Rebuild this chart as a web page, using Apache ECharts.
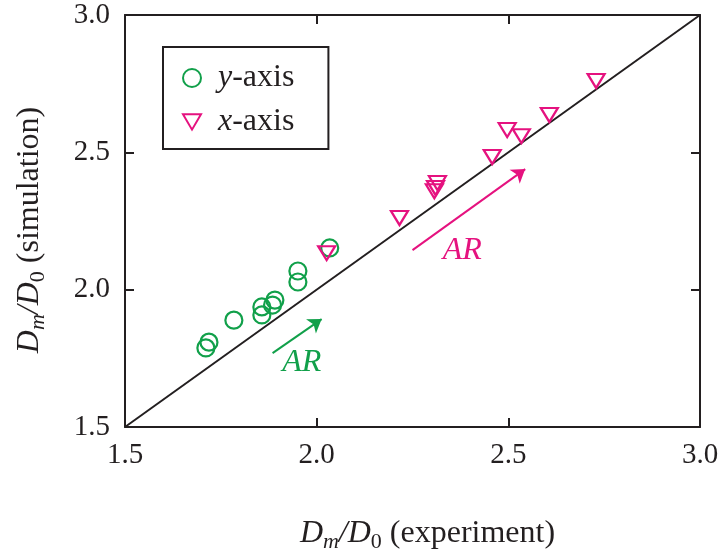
<!DOCTYPE html>
<html>
<head>
<meta charset="utf-8">
<script src="https://cdn.jsdelivr.net/npm/echarts@6/dist/echarts.min.js"></script>
<style>html,body{margin:0;padding:0;background:#fff;}#c{width:724px;height:550px;}</style>
</head>
<body>
<div id="c"></div>
<script>
// y-axis measurements (green circles): [experiment, simulation]
const yAxisSeries = [
  [1.711, 1.788], [1.719, 1.809], [1.784, 1.889], [1.857, 1.937], [1.857, 1.908],
  [1.891, 1.962], [1.885, 1.944], [1.951, 2.068], [1.951, 2.028], [2.034, 2.152]
];
// x-axis measurements (magenta triangles)
const xAxisSeries = [
  [2.026, 2.133], [2.216, 2.261], [2.315, 2.388], [2.310, 2.370], [2.307, 2.358],
  [2.458, 2.483], [2.497, 2.581], [2.534, 2.559], [2.607, 2.636], [2.729, 2.760]
];
const diagonal = [[1.5, 1.5], [3.0, 3.0]];
const greenArrow = [[1.885, 1.769], [2.013, 1.893]];
const magentaArrow = [[2.250, 2.144], [2.544, 2.439]];
const greenLabel = [1.961, 1.735];
const magentaLabel = [2.380, 2.143];
const axisMin = 1.5, axisMax = 3.0, axisStep = 0.5;

const GREEN = '#11a04a';
const MAG = '#e5127f';
const INK = '#231f20';
const FONT = '"Liberation Serif", "DejaVu Serif", serif';
const triPath = 'path://M0,0 L20,0 L10,17 Z';

const chart = echarts.init(document.getElementById('c'));
const axisCommon = {
  type: 'value', min: axisMin, max: axisMax, interval: axisStep,
  axisLine: { show: true, lineStyle: { color: INK, width: 2 } },
  axisTick: { show: true, inside: true, length: 9, lineStyle: { color: INK, width: 2 } },
  splitLine: { show: false }
};
const nameRich = {
  i: { fontFamily: FONT, fontStyle: 'italic', fontSize: 32, color: INK },
  s: { fontFamily: FONT, fontStyle: 'italic', fontSize: 22, color: INK, verticalAlign: 'bottom', padding: [16, 0, 0, 0] },
  s0: { fontFamily: FONT, fontSize: 22, color: INK, verticalAlign: 'bottom', padding: [16, 0, 0, 0] },
  n: { fontFamily: FONT, fontSize: 32, color: INK }
};
const fmt = function (v) { return v.toFixed(1); };
chart.setOption({
  animation: false,
  grid: { left: 125, right: 24, top: 15, bottom: 123, containLabel: false, outerBoundsMode: 'none' },
  xAxis: [
    Object.assign({}, axisCommon, {
      position: 'bottom',
      axisLabel: { margin: 14, fontFamily: FONT, fontSize: 29, color: INK, formatter: fmt },
      name: '{i|D}{s|m}{i|/D}{s0|0}{n| (experiment)}',
      nameLocation: 'middle', nameGap: 88,
      nameTextStyle: { rich: nameRich, padding: [0, 0, 0, 30] }
    }),
    Object.assign({}, axisCommon, { position: 'top', axisLabel: { show: false } })
  ],
  yAxis: [
    Object.assign({}, axisCommon, {
      position: 'left',
      axisLabel: { margin: 15, fontFamily: FONT, fontSize: 29, color: INK, formatter: fmt },
      name: '{i|D}{s|m}{i|/D}{s0|0}{n| (simulation)}',
      nameLocation: 'middle', nameGap: 76,
      nameTextStyle: { rich: nameRich, padding: [0, 18, 0, 0] }
    }),
    Object.assign({}, axisCommon, { position: 'right', axisLabel: { show: false } })
  ],
  legend: {
    data: ['y-axis', 'x-axis'],
    orient: 'vertical', left: 163, top: 47,
    padding: [14, 34, 10, 19],
    borderColor: INK, borderWidth: 2,
    itemWidth: 18, itemHeight: 18, itemGap: 10,
    textStyle: {
      fontFamily: FONT, fontSize: 32, color: INK, lineHeight: 34,
      padding: [0, 0, 0, 12],
      rich: {
        i: { fontFamily: FONT, fontStyle: 'italic', fontSize: 32, color: INK },
        n: { fontFamily: FONT, fontSize: 32, color: INK }
      }
    },
    formatter: function (name) { return '{i|' + name.charAt(0) + '}{n|' + name.slice(1) + '}'; }
  },
  series: [
    {
      type: 'line', data: diagonal, symbol: 'none', silent: true,
      lineStyle: { color: INK, width: 2 }, z: 1
    },
    {
      name: 'y-axis', type: 'scatter', data: yAxisSeries,
      symbol: 'circle', symbolSize: 17,
      itemStyle: { color: 'rgba(255,255,255,0)', borderColor: GREEN, borderWidth: 2.2, opacity: 1 },
      markLine: {
        silent: true, symbol: ['none', 'arrow'], symbolSize: 13,
        lineStyle: { color: GREEN, width: 2, type: 'solid' }, label: { show: false },
        data: [[{ coord: greenArrow[0] }, { coord: greenArrow[1] }]]
      },
      markPoint: {
        silent: true, symbol: 'circle', symbolSize: 1,
        itemStyle: { color: 'rgba(0,0,0,0)' },
        label: { show: true, position: 'inside', formatter: 'AR', fontFamily: FONT, fontStyle: 'italic', fontSize: 32, color: GREEN },
        data: [{ coord: greenLabel }]
      },
      z: 3
    },
    {
      name: 'x-axis', type: 'scatter', data: xAxisSeries,
      symbol: triPath, symbolSize: [17, 14],
      itemStyle: { color: 'rgba(255,255,255,0)', borderColor: MAG, borderWidth: 2.2, opacity: 1 },
      markLine: {
        silent: true, symbol: ['none', 'arrow'], symbolSize: 13,
        lineStyle: { color: MAG, width: 2, type: 'solid' }, label: { show: false },
        data: [[{ coord: magentaArrow[0] }, { coord: magentaArrow[1] }]]
      },
      markPoint: {
        silent: true, symbol: 'circle', symbolSize: 1,
        itemStyle: { color: 'rgba(0,0,0,0)' },
        label: { show: true, position: 'inside', formatter: 'AR', fontFamily: FONT, fontStyle: 'italic', fontSize: 32, color: MAG },
        data: [{ coord: magentaLabel }]
      },
      z: 3
    }
  ]
});
</script>
</body>
</html>
